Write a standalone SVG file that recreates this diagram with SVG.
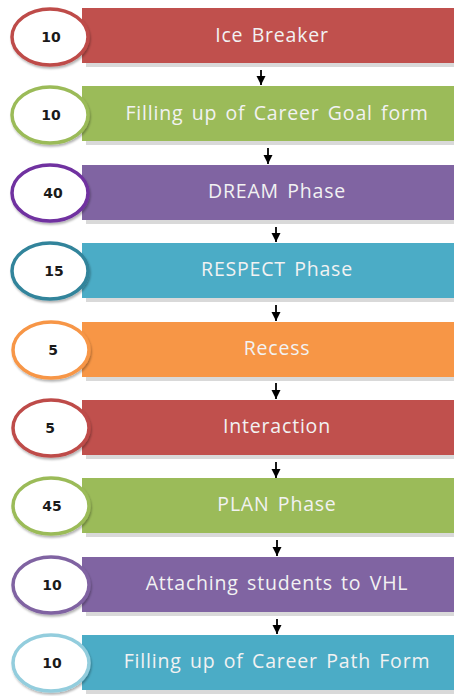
<svg xmlns="http://www.w3.org/2000/svg" width="454" height="696" viewBox="0 0 454 696">
<defs>
<style>
.sh{fill:#d9d9d9}
.bar{stroke:none}
.ell{fill:#ffffff;stroke-width:3.5}
.lbl{font-family:"Open Sans","Liberation Sans",sans-serif;font-size:19.5px;font-weight:500;fill:#f2f2f2;text-anchor:middle;letter-spacing:0.8px;word-spacing:2.5px}
.num{font-family:"DejaVu Sans","Liberation Sans",sans-serif;font-size:14px;font-weight:bold;fill:#1a1a1a;text-anchor:middle}
.con line{stroke:#000;stroke-width:1.8}
</style>
<marker id="ah" viewBox="0 0 10 10" refX="10" refY="5" markerWidth="9" markerHeight="10" orient="auto" markerUnits="userSpaceOnUse">
<path d="M0,0 L10,5 L0,10 Z" fill="#000"/>
</marker>
<filter id="ds" x="-20%" y="-20%" width="140%" height="150%">
<feDropShadow dx="1" dy="2" stdDeviation="1.2" flood-color="#000" flood-opacity="0.3"/>
</filter>
</defs>
<rect width="454" height="696" fill="#ffffff"/>
<g class="con">
<line x1="261" y1="70" x2="261" y2="85" marker-end="url(#ah)"/>
<line x1="268" y1="148" x2="268" y2="164" marker-end="url(#ah)"/>
<line x1="276" y1="227" x2="276" y2="242" marker-end="url(#ah)"/>
<line x1="276" y1="305" x2="276" y2="321" marker-end="url(#ah)"/>
<line x1="276" y1="383" x2="276" y2="399" marker-end="url(#ah)"/>
<line x1="276" y1="462" x2="276" y2="478" marker-end="url(#ah)"/>
<line x1="277" y1="540" x2="277" y2="556" marker-end="url(#ah)"/>
<line x1="277" y1="619" x2="277" y2="634" marker-end="url(#ah)"/>
</g>
<g id="n1">
<rect class="sh" x="86" y="60" width="368" height="7"/>
<rect class="bar" x="82" y="8" width="372" height="55" fill="#C0504D"/>
<ellipse class="ell" cx="50" cy="37" rx="38" ry="28" stroke="#BE4B48" filter="url(#ds)"/>
<text class="num" x="51" y="42">10</text>
<text class="lbl" x="272" y="42">Ice Breaker</text>
</g>
<g id="n2">
<rect class="sh" x="86" y="138" width="368" height="7"/>
<rect class="bar" x="82" y="86" width="372" height="55" fill="#9BBB59"/>
<ellipse class="ell" cx="50" cy="115" rx="38" ry="28" stroke="#9BBB59" filter="url(#ds)"/>
<text class="num" x="51" y="120">10</text>
<text class="lbl" x="277" y="120">Filling up of Career Goal form</text>
</g>
<g id="n3">
<rect class="sh" x="86" y="217" width="368" height="7"/>
<rect class="bar" x="82" y="165" width="372" height="55" fill="#8064A2"/>
<ellipse class="ell" cx="50" cy="193" rx="38" ry="28" stroke="#7030A0" filter="url(#ds)"/>
<text class="num" x="53" y="198">40</text>
<text class="lbl" x="277" y="198">DREAM Phase</text>
</g>
<g id="n4">
<rect class="sh" x="86" y="295" width="368" height="7"/>
<rect class="bar" x="82" y="243" width="372" height="55" fill="#4BACC6"/>
<ellipse class="ell" cx="50" cy="271" rx="38" ry="28" stroke="#31849B" filter="url(#ds)"/>
<text class="num" x="54" y="276">15</text>
<text class="lbl" x="277" y="276">RESPECT Phase</text>
</g>
<g id="n5">
<rect class="sh" x="86" y="374" width="368" height="7"/>
<rect class="bar" x="82" y="322" width="372" height="55" fill="#F79646"/>
<ellipse class="ell" cx="51" cy="350" rx="38" ry="28" stroke="#F79646" filter="url(#ds)"/>
<text class="num" x="53" y="355">5</text>
<text class="lbl" x="277" y="355">Recess</text>
</g>
<g id="n6">
<rect class="sh" x="86" y="452" width="368" height="7"/>
<rect class="bar" x="82" y="400" width="372" height="55" fill="#C0504D"/>
<ellipse class="ell" cx="51" cy="428" rx="38" ry="28" stroke="#BE4B48" filter="url(#ds)"/>
<text class="num" x="50" y="433">5</text>
<text class="lbl" x="277" y="433">Interaction</text>
</g>
<g id="n7">
<rect class="sh" x="86" y="530" width="368" height="7"/>
<rect class="bar" x="82" y="478" width="372" height="55" fill="#9BBB59"/>
<ellipse class="ell" cx="51" cy="506" rx="38" ry="28" stroke="#9BBB59" filter="url(#ds)"/>
<text class="num" x="52" y="511">45</text>
<text class="lbl" x="277" y="511">PLAN Phase</text>
</g>
<g id="n8">
<rect class="sh" x="86" y="609" width="368" height="7"/>
<rect class="bar" x="82" y="557" width="372" height="55" fill="#8064A2"/>
<ellipse class="ell" cx="51" cy="585" rx="38" ry="28" stroke="#8064A2" filter="url(#ds)"/>
<text class="num" x="52" y="590">10</text>
<text class="lbl" x="277" y="590">Attaching students to VHL</text>
</g>
<g id="n9">
<rect class="sh" x="86" y="687" width="368" height="7"/>
<rect class="bar" x="82" y="635" width="372" height="55" fill="#4BACC6"/>
<ellipse class="ell" cx="51" cy="663" rx="38" ry="28" stroke="#93CDDD" filter="url(#ds)"/>
<text class="num" x="52" y="668">10</text>
<text class="lbl" x="277" y="668">Filling up of Career Path Form</text>
</g>
</svg>
